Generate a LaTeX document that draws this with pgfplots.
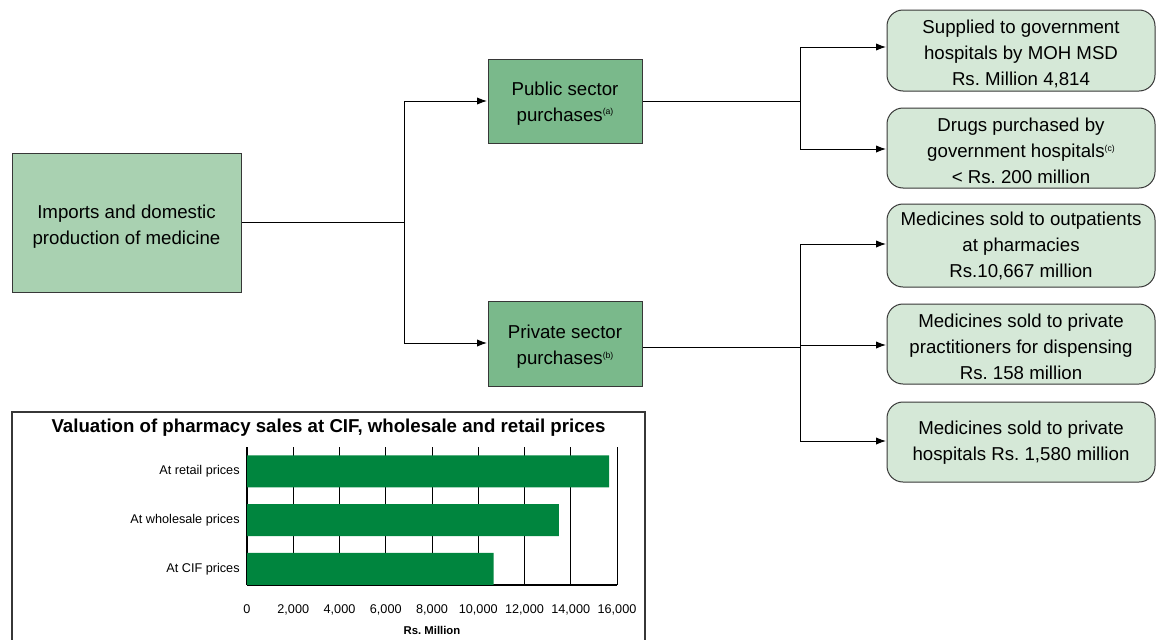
\documentclass[border=0pt]{standalone}
\usepackage{pgfplots}
\pgfplotsset{compat=1.18}
\usepackage{fontspec}
\setmainfont{Liberation Sans}
\usetikzlibrary{arrows.meta}
\definecolor{boxL}{RGB}{169,209,177}
\definecolor{boxM}{RGB}{122,185,139}
\definecolor{boxR}{RGB}{213,232,215}
\definecolor{barG}{RGB}{0,133,62}
\definecolor{edge}{RGB}{55,55,55}
\newcommand{\sps}[1]{\raisebox{5pt}{\fontsize{6.5}{7}\selectfont(#1)}}
\frenchspacing
\begin{document}
\begin{tikzpicture}
\begin{scope}[x=0.75pt,y=-0.75pt]
\path[use as bounding box] (0,0) rectangle (1156,639);
\tikzset{ln/.style={line width=0.75pt,black}, ar/.style={ln,-{Latex[length=7.5pt,width=5.5pt]}},
  bx/.style={draw=edge,line width=0.75pt}, tx/.style={align=center,font=\fontsize{14}{19.5}\selectfont}}
% connectors
\draw[ln] (241,222)--(404,222);
\draw[ln] (404,101)--(404,343);
\draw[ar] (404,101)--(487,101);
\draw[ar] (404,343)--(487,343);
\draw[ln] (642,101)--(800,101);
\draw[ln] (800,47)--(800,149);
\draw[ar] (800,47)--(886,47);
\draw[ar] (800,149)--(886,149);
\draw[ln] (642,347)--(800,347);
\draw[ln] (800,244)--(800,441);
\draw[ar] (800,244)--(886,244);
\draw[ar] (800,345)--(886,345);
\draw[ar] (800,441)--(886,441);
% left box
\draw[bx,fill=boxL] (12,153) rectangle (241,292);
\node[tx] at (126.5,226.5) {Imports and domestic\\production of medicine};
% middle boxes
\draw[bx,fill=boxM] (488,59) rectangle (642,143);
\node[tx] at (565,103.5) {Public sector\\purchases\sps{a}};
\draw[bx,fill=boxM] (488,301) rectangle (642,386);
\node[tx] at (565,347) {Private sector\\purchases\sps{b}};
% right boxes
\draw[bx,fill=boxR,rounded corners=12pt] (887,10) rectangle (1155,91);
\node[tx] at (1021,54) {Supplied to government\\hospitals by MOH MSD\\Rs. Million 4,814};
\draw[bx,fill=boxR,rounded corners=12pt] (887,108) rectangle (1155,188);
\node[tx] at (1021,151) {Drugs purchased by\\government hospitals\sps{c}\\< Rs. 200 million};
\draw[bx,fill=boxR,rounded corners=12pt] (887,204) rectangle (1155,287);
\node[tx] at (1021,246) {Medicines sold to outpatients\\at pharmacies\\Rs.10,667 million};
\draw[bx,fill=boxR,rounded corners=12pt] (887,304) rectangle (1155,384);
\node[tx] at (1021,347) {Medicines sold to private\\practitioners for dispensing\\Rs. 158 million};
\draw[bx,fill=boxR,rounded corners=12pt] (887,402) rectangle (1155,482);
\node[tx] at (1021,443) {Medicines sold to private\\hospitals Rs. 1,580 million};
% bar chart frame and title
\draw[edge,line width=0.8pt] (12,650)--(12,412)--(645,412)--(645,650);
\node[font=\bfseries\fontsize{14}{16}\selectfont] at (328.5,428) {Valuation of pharmacy sales at CIF, wholesale and retail prices};
\end{scope}
\begin{axis}[
  at={(185.25pt,-438.75pt)}, anchor=south west,
  scale only axis, width=277.5pt, height=103.5pt,
  xbar, bar width=24pt,
  xmin=0, xmax=16000, ymin=-0.33, ymax=2.5,
  axis x line*=bottom, axis y line*=left,
  axis line style={black, line width=0.8pt},
  xmajorgrids, grid style={black, line width=0.6pt},
  xtick={0,2000,...,16000}, ytick={0,1,2},
  yticklabels={At CIF prices,At wholesale prices,At retail prices},
  major tick length=0pt,
  scaled x ticks=false,
  /pgf/number format/assume math mode=true,
  /pgf/number format/1000 sep={,},
  xticklabel style={font=\fontsize{9.5}{11}\selectfont, yshift=-11pt},
  yticklabel style={font=\fontsize{9.5}{11}\selectfont, xshift=-2pt},
  xlabel={Rs. Million},
  xlabel style={font=\bfseries\fontsize{8.5}{10}\selectfont, yshift=-1.5pt},
]
\addplot[fill=barG, draw=none] coordinates {(10667,0) (13490,1) (15660,2)};
\end{axis}
\end{tikzpicture}
\end{document}
